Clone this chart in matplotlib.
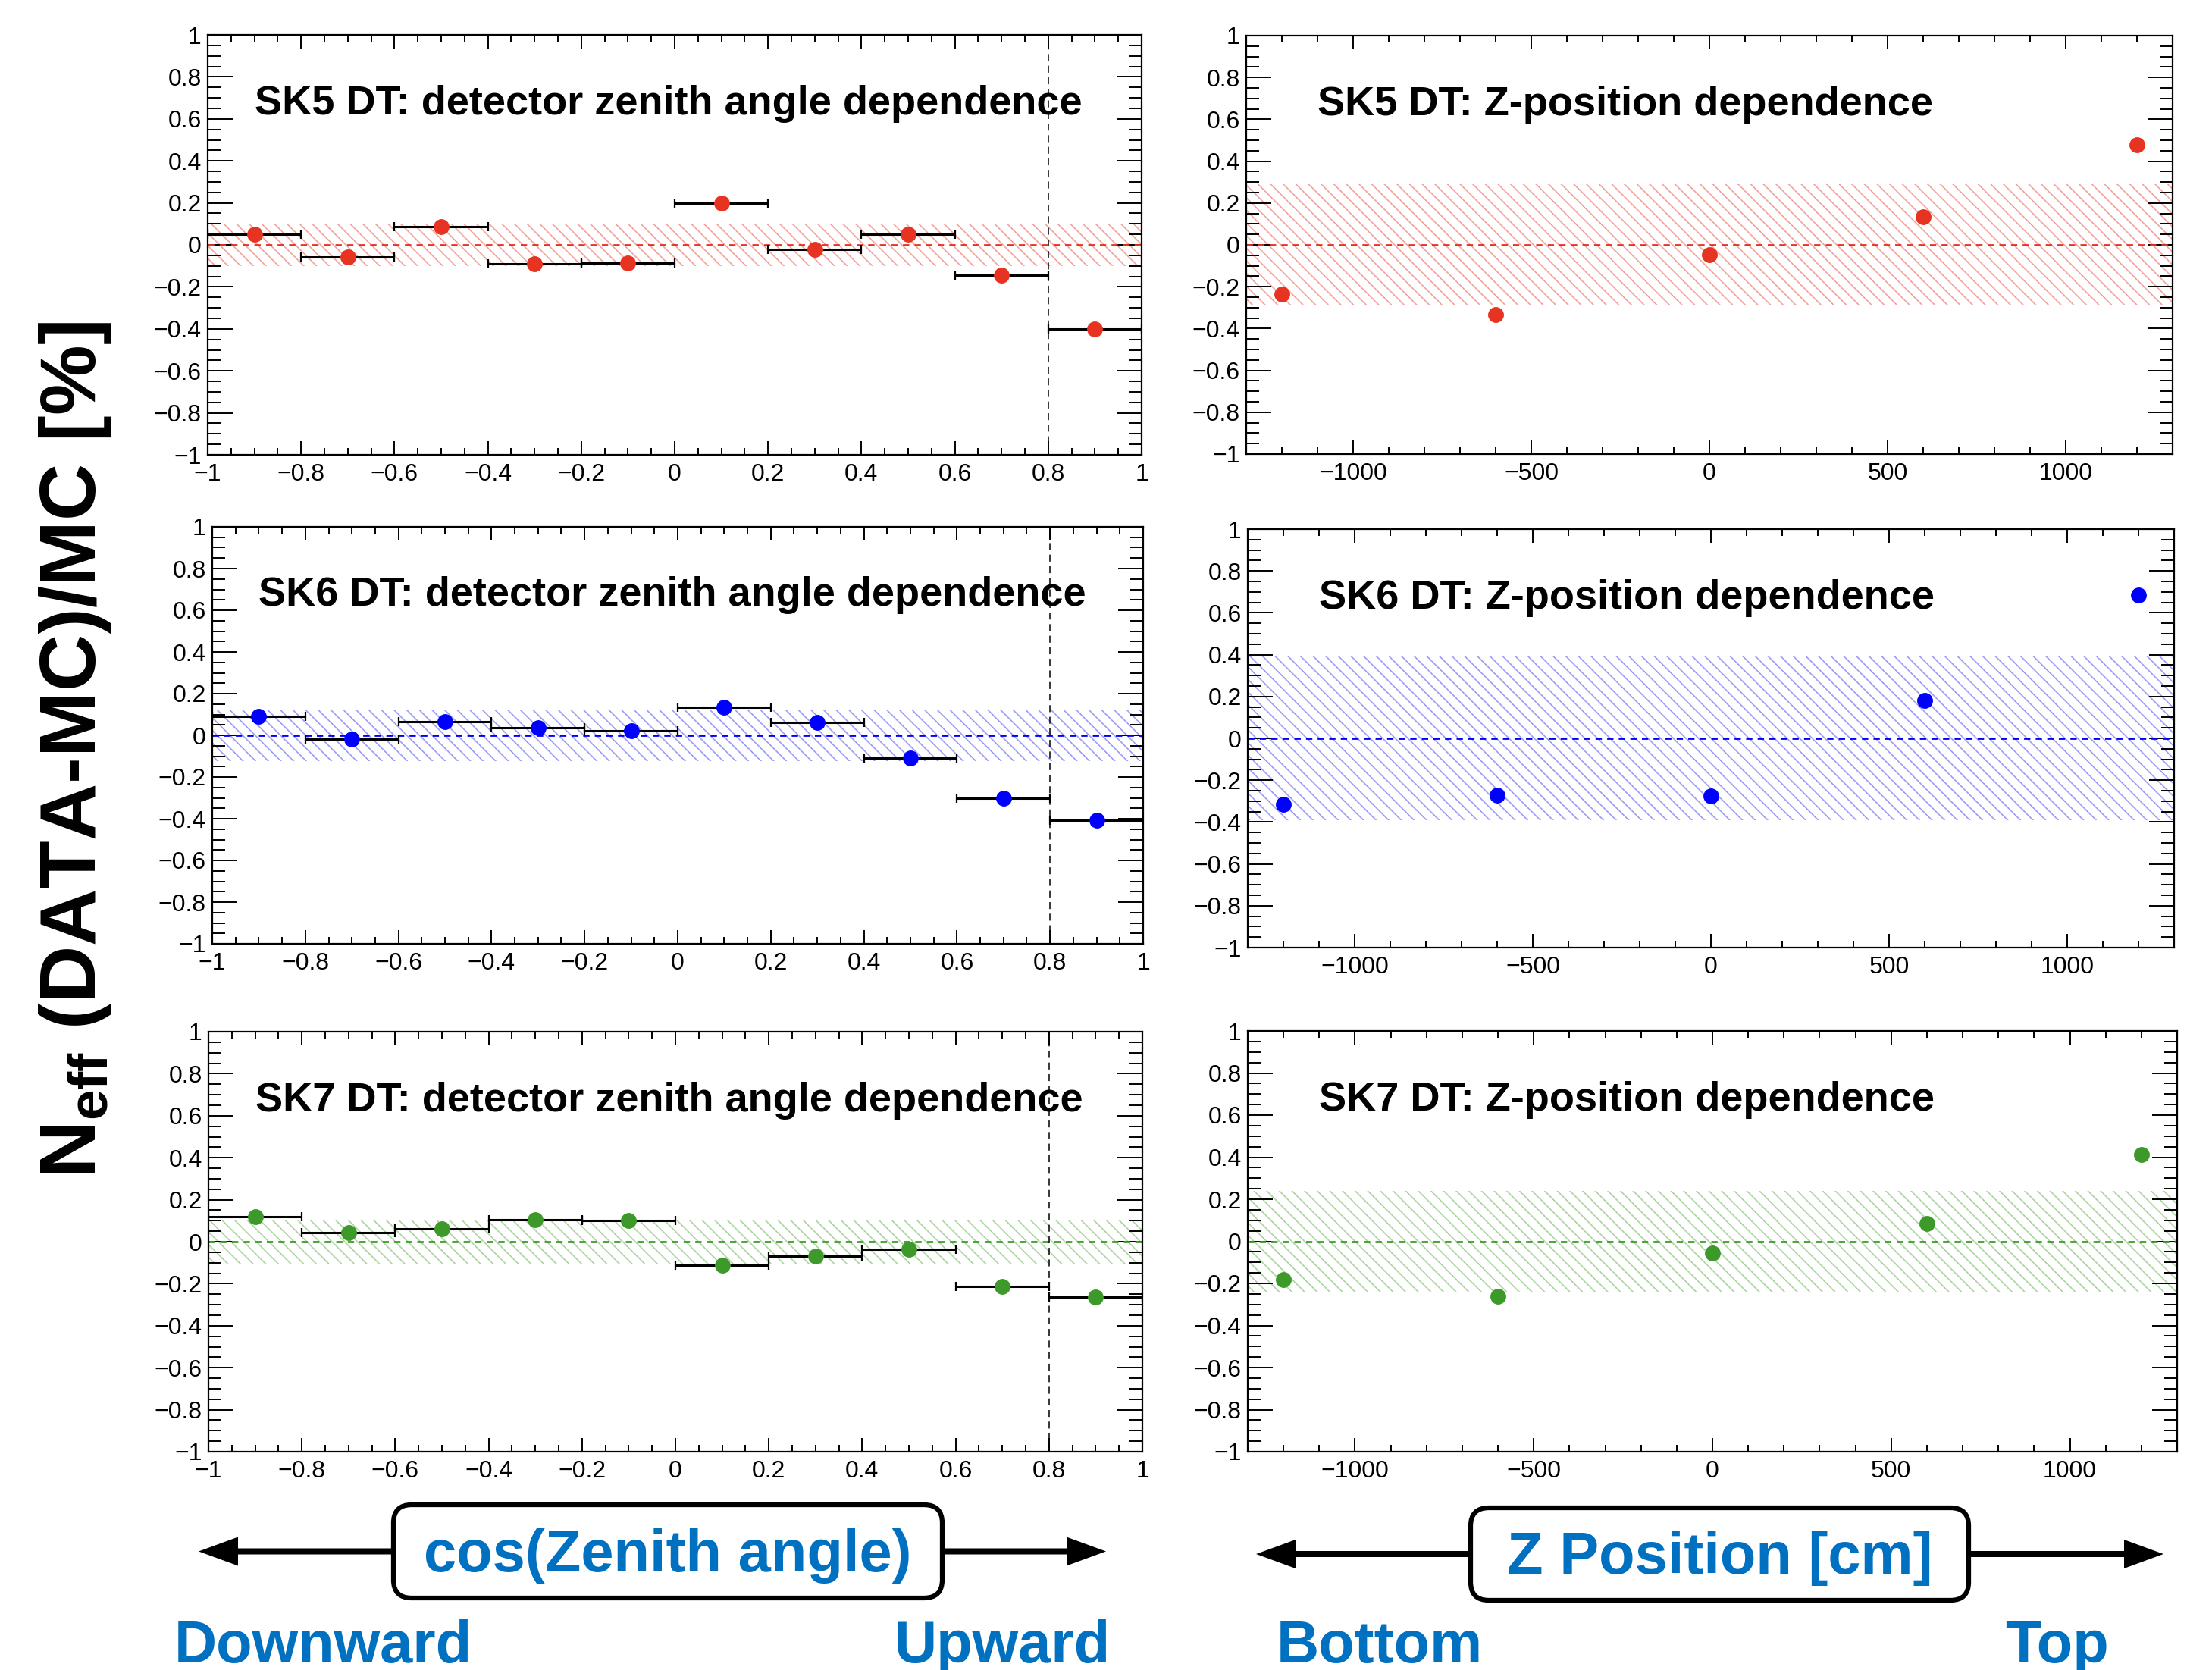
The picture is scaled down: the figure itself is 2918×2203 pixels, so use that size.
import matplotlib
matplotlib.use('Agg')
import matplotlib.pyplot as plt
from matplotlib.ticker import MultipleLocator, FuncFormatter
from matplotlib.patches import FancyBboxPatch, FancyArrow

plt.rcParams['font.family'] = ['Liberation Sans', 'DejaVu Sans']
plt.rcParams['mathtext.fontset'] = 'custom'
plt.rcParams['mathtext.rm'] = 'Liberation Sans'
plt.rcParams['mathtext.bf'] = 'Liberation Sans:bold'
plt.rcParams['hatch.linewidth'] = 1.2

# Data
zen_x = [-0.9, -0.7, -0.5, -0.3, -0.1, 0.1, 0.3, 0.5, 0.7, 0.9]
zen_xerr = [0.1] * 10
sk5_zen = [0.05, -0.058, 0.088, -0.09, -0.086, 0.20, -0.02, 0.05, -0.143, -0.40]
sk6_zen = [0.092, -0.018, 0.066, 0.035, 0.021, 0.134, 0.063, -0.11, -0.30, -0.407]
sk7_zen = [0.119, 0.043, 0.063, 0.104, 0.10, -0.111, -0.07, -0.036, -0.214, -0.263]

z_pos = [-1200, -600, 0, 600, 1200]
sk5_z = [-0.236, -0.333, -0.046, 0.133, 0.48]
sk6_z = [-0.315, -0.273, -0.277, 0.18, 0.684]
sk7_z = [-0.183, -0.26, -0.056, 0.084, 0.411]

periods = ['SK5', 'SK6', 'SK7']
zen_band = [0.10, 0.125, 0.105]
z_band = [0.29, 0.39, 0.24]
zen_cut = 0.8

colors = ['#e63322', '#0000ff', '#3d9a2a']
hatch_colors = ['#f2a39b', '#9c9cf7', '#abd59f']
text_blue = '#0070c0'

W, H = 2918, 2203
fig = plt.figure(figsize=(W / 100, H / 100), dpi=100)

# axes boxes in pixels: (left, top, right, bottom)
left_boxes = [(274, 46, 1506, 600), (280, 695, 1508, 1245), (275, 1361, 1507, 1915)]
right_boxes = [(1644, 47, 2866, 599), (1646, 698, 2868, 1250), (1646, 1360, 2872, 1915)]


def make_axes(box):
  l, t, r, b = box
  return fig.add_axes([l / W, 1 - b / H, (r - l) / W, (b - t) / H])


def fmt(v, pos):
  s = '%g' % round(v, 6)
  return s.replace('-', '\u2212')


def style_axes(ax, xmajor, xminor):
  ax.set_ylim(-1, 1)
  ax.yaxis.set_major_locator(MultipleLocator(0.2))
  ax.yaxis.set_minor_locator(MultipleLocator(0.05))
  ax.xaxis.set_major_locator(MultipleLocator(xmajor))
  ax.xaxis.set_minor_locator(MultipleLocator(xminor))
  ax.xaxis.set_major_formatter(FuncFormatter(fmt))
  ax.yaxis.set_major_formatter(FuncFormatter(fmt))
  ax.tick_params(which='both', direction='in', top=True, right=True, width=1.4, labelsize=23)
  ax.tick_params(axis='y', which='major', length=24, pad=6)
  ax.tick_params(axis='y', which='minor', length=12)
  ax.tick_params(axis='x', which='major', length=13, pad=8)
  ax.tick_params(axis='x', which='minor', length=6.5)
  for sp in ax.spines.values():
    sp.set_linewidth(1.6)


zen_data = [sk5_zen, sk6_zen, sk7_zen]
z_data = [sk5_z, sk6_z, sk7_z]

for i in range(3):
  # zenith angle panel
  ax = make_axes(left_boxes[i])
  ax.set_xlim(-1, 1)
  style_axes(ax, 0.2, 0.05)
  ax.axhspan(-zen_band[i], zen_band[i], facecolor='none', edgecolor=hatch_colors[i],
             hatch='\\\\', linewidth=0, zorder=1)
  ax.axhline(0, color=colors[i], lw=2.0, ls=(0, (3, 2.5)), zorder=2)
  ax.axvline(zen_cut, color='black', lw=1.1, ls=(0, (6, 4)), zorder=2)
  ax.errorbar(zen_x, zen_data[i], xerr=zen_xerr, fmt='none', ecolor='black',
              elinewidth=2.2, capsize=4, capthick=1.6, zorder=3)
  ax.plot(zen_x, zen_data[i], 'o', color=colors[i], ms=14, mec=colors[i], zorder=4)
  ax.text(0.05, 0.81, f'{periods[i]} DT: detector zenith angle dependence',
          transform=ax.transAxes, fontsize=39, fontweight='bold', va='baseline')

  # Z position panel
  ax = make_axes(right_boxes[i])
  ax.set_xlim(-1300, 1300)
  style_axes(ax, 500, 100)
  ax.axhspan(-z_band[i], z_band[i], facecolor='none', edgecolor=hatch_colors[i],
             hatch='\\\\', linewidth=0, zorder=1)
  ax.axhline(0, color=colors[i], lw=2.0, ls=(0, (3, 2.5)), zorder=2)
  ax.plot(z_pos, z_data[i], 'o', color=colors[i], ms=14, mec=colors[i], zorder=4)
  ax.text(0.077, 0.81, f'{periods[i]} DT: Z-position dependence',
          transform=ax.transAxes, fontsize=39, fontweight='bold', va='baseline')

# overlay in pixel units for the common labels
ov = fig.add_axes([0, 0, 1, 1], zorder=-1)
ov.set_xlim(0, W)
ov.set_ylim(H, 0)
ov.axis('off')

ov.text(100, 989, r'$\mathbf{N_{eff}}$ (DATA-MC)/MC [%]', rotation=90,
        ha='center', va='center', fontsize=75, fontweight='bold')

# boxed axis titles with arrows
for (x0, x1, y0, y1), tips, label in [((519, 1243, 1985, 2108), (262, 1459), 'cos(Zenith angle)'),
                                       ((1940, 2597, 1989, 2111), (1657, 2854), 'Z Position [cm]')]:
  yc = (y0 + y1) / 2
  ov.add_patch(FancyArrow(x0, yc, tips[0] - x0, 0, width=8, head_width=38, head_length=52,
                          length_includes_head=True, color='black', lw=0))
  ov.add_patch(FancyArrow(x1, yc, tips[1] - x1, 0, width=8, head_width=38, head_length=52,
                          length_includes_head=True, color='black', lw=0))
  ov.add_patch(FancyBboxPatch((x0, y0), x1 - x0, y1 - y0,
                              boxstyle='round,pad=0,rounding_size=24',
                              fc='white', ec='black', lw=4.5, zorder=3))
  ov.text((x0 + x1) / 2, yc + 6, label, ha='center', va='center', fontsize=56,
          fontweight='bold', color=text_blue, zorder=4)

for x, label in [(230, 'Downward'), (1179, 'Upward'), (1684, 'Bottom'), (2645, 'Top')]:
  ov.text(x, 2193, label, ha='left', va='baseline', fontsize=56,
          fontweight='bold', color=text_blue)

fig.savefig('out.png', dpi=100)
